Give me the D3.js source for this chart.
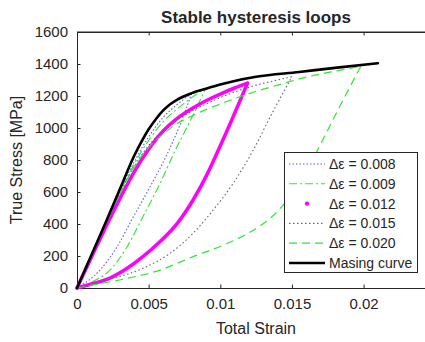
<!DOCTYPE html>
<html><head><meta charset="utf-8">
<script src="https://cdn.jsdelivr.net/npm/d3@7"></script>
<style>body{margin:0;background:#fff}svg{display:block}text{font-family:"Liberation Sans",Arial,sans-serif;fill:#262626}</style>
</head><body>
<svg id="c" width="425" height="342"></svg>
<script>
// ---- data (strain, stress MPa) ----
const xTicks = [0, 0.005, 0.01, 0.015, 0.02];
const xTickLabels = ["0", "0.005", "0.01", "0.015", "0.02"];
const yTicks = [0, 200, 400, 600, 800, 1000, 1200, 1400, 1600];
const legendLabels = ["\u0394\u03b5 = 0.008", "\u0394\u03b5 = 0.009", "\u0394\u03b5 = 0.012", "\u0394\u03b5 = 0.015", "\u0394\u03b5 = 0.020", "Masing curve"];

const up008 = [[0,0],[0.001,205],[0.002,410],[0.003,610],[0.004,790],[0.005,945],[0.006,1065],[0.007,1148],[0.008,1215]];
const lo008 = [[0,0],[0.0016,112],[0.0028,258],[0.0039,440],[0.0051,633],[0.0062,820],[0.0071,1000],[0.008,1215]];
const up009 = [[0,0],[0.001,200],[0.002,400],[0.003,598],[0.004,775],[0.005,922],[0.006,1038],[0.007,1120],[0.008,1190],[0.009,1250]];
const lo009 = [[0,0],[0.0011,40],[0.0023,112],[0.0035,258],[0.0046,446],[0.0058,654],[0.0068,850],[0.0079,1045],[0.009,1250]];
const up012 = [[0,0],[0.001,190],[0.002,380],[0.003,560],[0.004,728],[0.005,868],[0.006,980],[0.007,1060],[0.008,1120],[0.009,1170],[0.010,1212],[0.011,1250],[0.0119,1280]];
const lo012 = [[0,0],[0.001,25],[0.0023,62],[0.0035,123],[0.0046,196],[0.0058,290],[0.007,404],[0.0081,550],[0.009,696],[0.0097,830],[0.0108,1050],[0.0119,1280]];
const up015 = [[0,0],[0.001,200],[0.002,400],[0.003,590],[0.004,760],[0.005,890],[0.006,985],[0.007,1050],[0.008,1105],[0.009,1150],[0.010,1190],[0.011,1225],[0.012,1255],[0.0135,1290],[0.015,1320]];
const lo015 = [[0,0],[0.0011,25],[0.0023,55],[0.0046,123],[0.0065,217],[0.0081,342],[0.0095,487],[0.0109,654],[0.0123,862],[0.0136,1090],[0.015,1320]];
const up020 = [[0,0],[0.001,200],[0.002,400],[0.003,590],[0.004,758],[0.005,878],[0.006,962],[0.007,1028],[0.008,1075],[0.009,1115],[0.010,1150],[0.012,1215],[0.014,1268],[0.016,1318],[0.018,1355],[0.0198,1385]];
const lo020 = [[0,0],[0.0011,19],[0.0035,60],[0.0058,112],[0.0081,196],[0.0104,275],[0.0118,335],[0.0128,390],[0.0136,445],[0.0144,520],[0.0152,610],[0.016,720],[0.0167,845],[0.0174,970],[0.0186,1180],[0.0198,1385]];
const masing = [[0,0],[0.002,410],[0.003,620],[0.004,828],[0.0045,915],[0.005,992],[0.0055,1055],[0.006,1108],[0.0065,1148],[0.007,1178],[0.008,1218],[0.009,1246],[0.010,1272],[0.011,1294],[0.0125,1320],[0.0155,1350],[0.018,1376],[0.021,1405]];

const series = [
  {branches:[up008, lo008], color:"#5a5aff", width:1.1, dash:"1.5,2"},
  {branches:[up009, lo009], color:"#2ee62e", width:1.1, dash:"8,3,2,3"},
  {branches:[up012, lo012], color:"#ff00ff", width:3.5, dash:null, marker:true},
  {branches:[up015, lo015], color:"#666666", width:1.1, dash:"1.5,2.5"},
  {branches:[up020, lo020], color:"#2ee62e", width:1.2, dash:"8,5"},
  {branches:[masing], color:"#000000", width:2.6, dash:null}
];

// ---- layout ----
const svg = d3.select("#c");
const L = 77, T = 32, B = 288;
const x = d3.scaleLinear().domain([0, 0.025]).range([L, L + 0.025 * 14330]);
const y = d3.scaleLinear().domain([0, 1600]).range([B, T]);
const axisColor = "#262626";

svg.append("line").attr("x1", L).attr("x2", x(0.025)).attr("y1", T).attr("y2", T).attr("stroke", axisColor);

const fmtX = d => xTickLabels[xTicks.indexOf(d)];
const gx = svg.append("g").attr("transform", `translate(0,${B})`)
  .call(d3.axisBottom(x).tickValues(xTicks).tickFormat(fmtX).tickSizeInner(-3.5).tickSizeOuter(0).tickPadding(10));
const gxt = svg.append("g").attr("transform", `translate(0,${T})`)
  .call(d3.axisTop(x).tickValues(xTicks).tickFormat("").tickSizeInner(-3.5).tickSizeOuter(0));
const gy = svg.append("g").attr("transform", `translate(${L},0)`)
  .call(d3.axisLeft(y).tickValues(yTicks).tickFormat(d3.format("d")).tickSizeInner(-3.5).tickSizeOuter(0).tickPadding(9));
[gx, gxt, gy].forEach(g => {
  g.select(".domain").attr("stroke", axisColor);
  g.selectAll(".tick line").attr("stroke", axisColor);
  g.selectAll(".tick text").attr("fill", "#262626").style("font-size", "15px").style("font-family", "'Liberation Sans',Arial,sans-serif");
});

const line = d3.line().x(d => x(d[0])).y(d => y(d[1])).curve(d3.curveMonotoneX);
const plot = svg.append("g");
series.forEach(s => {
  s.branches.forEach(br => {
    plot.append("path").attr("d", line(br)).attr("fill", "none")
      .attr("stroke", s.color).attr("stroke-width", s.width)
      .attr("stroke-dasharray", s.dash).attr("stroke-linejoin", "round").attr("stroke-linecap", s.dash ? "butt" : "round");
  });
});

svg.append("text").attr("x", 256).attr("y", 23).attr("text-anchor", "middle")
  .style("font-size", "17px").style("font-weight", "bold").attr("fill", "#000").text("Stable hysteresis loops");
svg.append("text").attr("x", 256).attr("y", 334).attr("text-anchor", "middle")
  .style("font-size", "16px").text("Total Strain");
svg.append("text").attr("transform", `translate(22,${(T + B) / 2}) rotate(-90)`).attr("text-anchor", "middle")
  .style("font-size", "16px").text("True Stress [MPa]");

const lg = svg.append("g");
lg.append("rect").attr("x", 284.5).attr("y", 152.5).attr("width", 133).attr("height", 120)
  .attr("fill", "#fff").attr("stroke", axisColor).attr("stroke-width", 1);
series.forEach((s, i) => {
  const cy = 164 + i * 19.8;
  if (s.marker) {
    lg.append("circle").attr("cx", 307).attr("cy", cy).attr("r", 2.2).attr("fill", s.color);
  } else {
    lg.append("line").attr("x1", 289).attr("x2", 325).attr("y1", cy).attr("y2", cy)
      .attr("stroke", s.color).attr("stroke-width", s.width).attr("stroke-dasharray", s.dash);
  }
  lg.append("text").attr("x", 329).attr("y", cy + 5).style("font-size", "14px").text(legendLabels[i]);
});
</script>
</body></html>
